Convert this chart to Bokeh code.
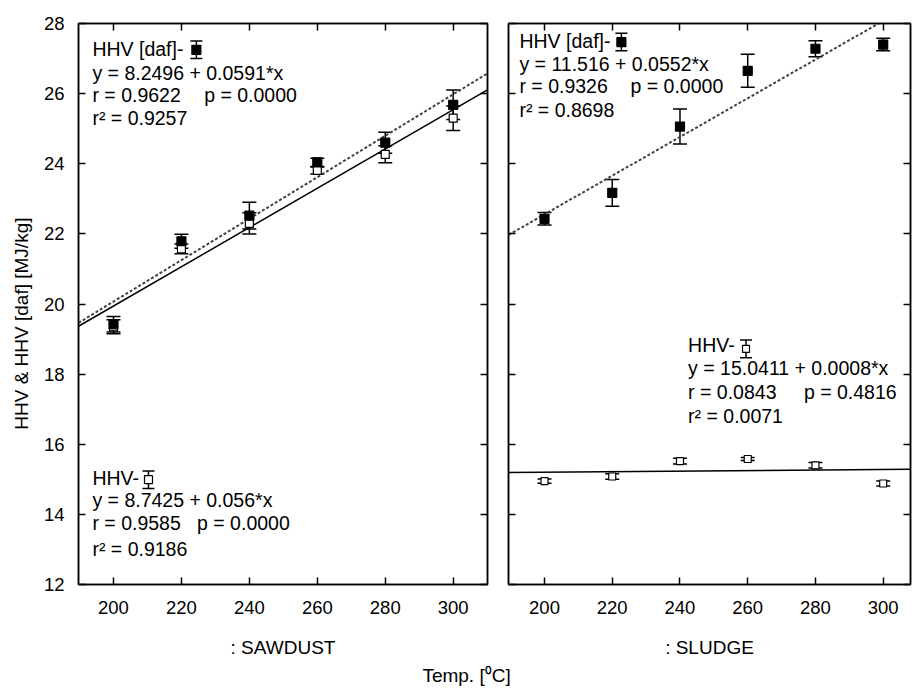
import math
from bokeh.plotting import figure
from bokeh.models import Range1d, LinearAxis, FixedTicker, Whisker, ColumnDataSource, Label, TeeHead
from bokeh.layouts import row, column
from bokeh.embed import file_html
from bokeh.resources import INLINE
from bokeh.core.properties import value

# ---------------- data ----------------
temps = [200, 220, 240, 260, 280, 300]
y_ticks = [12, 14, 16, 18, 20, 22, 24, 26, 28]

saw_daf = [19.42, 21.79, 22.52, 24.04, 24.60, 25.68]
saw_daf_err = [0.22, 0.20, 0.38, 0.12, 0.30, 0.42]
saw_hhv = [19.35, 21.57, 22.30, 23.81, 24.27, 25.30]
saw_hhv_err = [0.20, 0.14, 0.30, 0.10, 0.24, 0.35]

sl_daf = [22.43, 23.17, 25.06, 26.65, 27.28, 27.40]
sl_daf_err = [0.18, 0.38, 0.50, 0.47, 0.23, 0.18]
sl_hhv = [14.95, 15.08, 15.52, 15.58, 15.40, 14.88]
sl_hhv_err = [0.06, 0.08, 0.08, 0.04, 0.08, 0.07]

saw_daf_fit = [8.2496, 0.0591]
saw_hhv_fit = [8.7425, 0.056]
sl_daf_fit = [11.516, 0.0552]
sl_hhv_fit = [15.0411, 0.0008]

saw_daf_txt = ["HHV [daf]-", "y = 8.2496 + 0.0591*x", "r = 0.9622", "r\u00b2 = 0.9257", "p = 0.0000"]
saw_hhv_txt = ["HHV-", "y = 8.7425 + 0.056*x", "r = 0.9585", "r\u00b2 = 0.9186", "p = 0.0000"]
sl_daf_txt = ["HHV [daf]-", "y = 11.516 + 0.0552*x", "r = 0.9326", "r\u00b2 = 0.8698", "p = 0.0000"]
sl_hhv_txt = ["HHV-", "y = 15.0411 + 0.0008*x", "r = 0.0843", "r\u00b2 = 0.0071", "p = 0.4816"]

y_title = "HHV & HHV [daf] [MJ/kg]"
x_title = "Temp. [\u2070C]"

FONT = "Liberation Sans"


def style_axis(ax, labels=True, size="18.5px"):
    ax.major_tick_in = 7
    ax.major_tick_out = 0
    ax.minor_tick_line_color = None
    ax.axis_line_width = 1.5
    ax.axis_line_color = "black"
    ax.major_tick_line_width = 1.5
    ax.major_tick_line_color = "black"
    ax.major_label_text_font = FONT
    ax.major_label_text_color = "black"
    if labels:
        ax.major_label_text_font_size = size
    else:
        ax.major_label_text_font_size = "1px"
        ax.major_label_standoff = 0


def make_panel(width, mbl, mbr, xr, xlabel, ylabels_on):
    p = figure(width=width, height=662, x_range=Range1d(*xr), y_range=Range1d(12, 28),
               output_backend="svg", toolbar_location=None,
               min_border_left=mbl, min_border_right=mbr, min_border_top=23, min_border_bottom=78,
               background_fill_color="white", border_fill_color="white")
    p.grid.visible = False
    p.outline_line_color = "black"
    p.outline_line_width = 1.5
    p.xaxis.ticker = FixedTicker(ticks=temps)
    p.yaxis.ticker = FixedTicker(ticks=y_ticks)
    style_axis(p.xaxis[0])
    p.xaxis.major_label_standoff = 16
    p.xaxis.axis_label = xlabel
    p.xaxis.axis_label_text_font = FONT
    p.xaxis.axis_label_text_font_size = "19px"
    p.xaxis.axis_label_text_font_style = "normal"
    p.xaxis.axis_label_text_color = "black"
    p.xaxis.axis_label_standoff = 20
    if ylabels_on:
        style_axis(p.yaxis[0])
        p.yaxis.major_label_standoff = 14
    else:
        style_axis(p.yaxis[0], labels=False)
        p.yaxis.major_label_overrides = {t: "" for t in y_ticks}
    top = LinearAxis(ticker=FixedTicker(ticks=temps), major_label_overrides={t: "" for t in temps})
    style_axis(top, labels=False)
    p.add_layout(top, "above")
    right = LinearAxis(ticker=FixedTicker(ticks=y_ticks), major_label_overrides={t: "" for t in y_ticks})
    style_axis(right, labels=False)
    p.add_layout(right, "right")
    return p


def add_fit(p, fit, xr, dashed):
    xs = [xr[0], xr[1]]
    ys = [fit[0] + fit[1] * xv for xv in xs]
    if dashed:
        p.line(xs, ys, line_color="#444444", line_width=2, line_dash="3 2")
    else:
        p.line(xs, ys, line_color="black", line_width=1.5)


def add_series(p, ys, errs, filled, size):
    src = ColumnDataSource(dict(x=temps, y=ys,
                                up=[a + b for a, b in zip(ys, errs)],
                                lo=[a - b for a, b in zip(ys, errs)]))
    w = Whisker(base="x", upper="up", lower="lo", source=src, dimension="height",
                line_color="black", line_width=1.5,
                upper_head=TeeHead(size=14, line_color="black", line_width=1.5),
                lower_head=TeeHead(size=14, line_color="black", line_width=1.5))
    p.add_layout(w)
    p.scatter("x", "y", source=src, marker="square", size=size,
              fill_color="black" if filled else "white", line_color="black", line_width=1.2)


def add_legend_symbol(p, x, y, filled, size):
    src = ColumnDataSource(dict(x=[x], y=[y], up=[y + 0.25], lo=[y - 0.25]))
    w = Whisker(base="x", upper="up", lower="lo", source=src, dimension="height",
                line_color="black", line_width=1.5,
                upper_head=TeeHead(size=12, line_color="black", line_width=1.5),
                lower_head=TeeHead(size=12, line_color="black", line_width=1.5))
    p.add_layout(w)
    p.scatter("x", "y", source=src, marker="square", size=size,
              fill_color="black" if filled else "white", line_color="black", line_width=1.2)


def add_text(p, lines, x, ys, px):
    for t, yv in zip(lines[:4], ys):
        p.add_layout(Label(x=x, y=yv, text=t, text_font=FONT, text_font_size="19.5px",
                           text_baseline="middle", text_color="black"))
    p.add_layout(Label(x=px, y=ys[2], text=lines[4], text_font=FONT, text_font_size="19.5px",
                       text_baseline="middle", text_color="black"))


# ---------------- y title strip ----------------
p0 = figure(width=40, height=662, x_range=Range1d(0, 1), y_range=Range1d(0, 1),
            x_axis_type=None, y_axis_type=None, output_backend="svg", toolbar_location=None,
            min_border=0, background_fill_color="white", border_fill_color="white")
p0.outline_line_color = None
p0.text(x=[0.52], y=[0.465], text=[y_title], angle=math.pi / 2, text_font=value(FONT),
        text_font_size="19px", text_align="center", text_baseline="middle", text_color="black")

# ---------------- left panel: SAWDUST ----------------
xr1 = (189.7, 310.1)
p1 = make_panel(457, 37, 10, xr1, ": SAWDUST", True)
add_fit(p1, saw_hhv_fit, xr1, False)
add_fit(p1, saw_daf_fit, xr1, True)
add_series(p1, saw_hhv, saw_hhv_err, False, 8)
add_series(p1, saw_daf, saw_daf_err, True, 9)
add_text(p1, saw_daf_txt, 193.8, [27.26, 26.60, 25.96, 25.30], 226.7)
add_legend_symbol(p1, 224.4, 27.25, True, 9)
add_text(p1, saw_hhv_txt, 193.8, [15.05, 14.40, 13.74, 13.02], 224.6)
add_legend_symbol(p1, 210.3, 14.99, False, 8)

# ---------------- right panel: SLUDGE ----------------
xr2 = (189.37, 308.06)
p2 = make_panel(415, 11, 2, xr2, ": SLUDGE", False)
add_fit(p2, sl_hhv_fit, xr2, False)
add_fit(p2, sl_daf_fit, xr2, True)
add_series(p2, sl_hhv, sl_hhv_err, False, 7)
add_series(p2, sl_daf, sl_daf_err, True, 9)
add_text(p2, sl_daf_txt, 192.6, [27.49, 26.84, 26.21, 25.54], 225.4)
add_legend_symbol(p2, 222.7, 27.47, True, 9)
add_text(p2, sl_hhv_txt, 242.4, [18.82, 18.18, 17.50, 16.81], 276.6)
add_legend_symbol(p2, 259.5, 18.72, False, 7)

# ---------------- common x label ----------------
p3 = figure(width=912, height=25, x_range=Range1d(0, 1), y_range=Range1d(0, 1),
            x_axis_type=None, y_axis_type=None, output_backend="svg", toolbar_location=None,
            min_border=0, background_fill_color="white", border_fill_color="white")
p3.outline_line_color = None
p3.text(x=[0.511], y=[0.5], text=[x_title], text_font=value(FONT), text_font_size="19px",
        text_align="center", text_baseline="middle", text_color="black")

layout = column(row(p0, p1, p2), p3)
open("out.html", "w").write(file_html(layout, INLINE))
